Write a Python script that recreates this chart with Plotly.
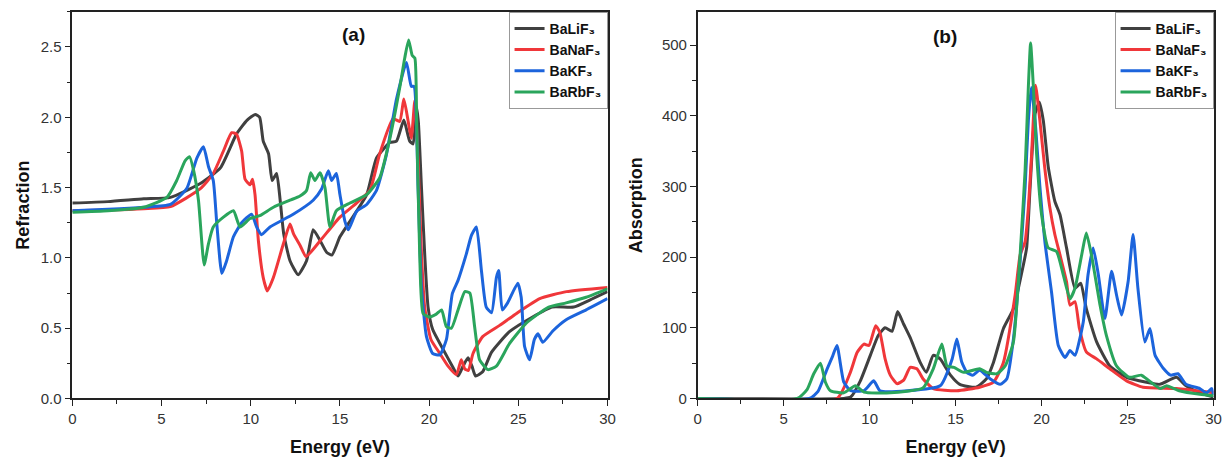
import plotly.graph_objects as go

# ---------------- Panel (a): Refraction ----------------
names = ["BaLiF₃", "BaNaF₃", "BaKF₃", "BaRbF₃"]
colors = ["#404040", "#f0373a", "#1c64dc", "#2aa55c"]

ref_li_e = [0, 2, 4, 5.5, 7.2, 8.3, 9.2, 9.8, 10.25, 10.5, 10.7, 11.0, 11.2, 11.45, 11.65, 11.85, 12.2,
            12.66, 13.13, 13.5, 13.9, 14.25, 14.55, 15.0, 15.56, 16.5, 17.05, 17.8, 18.17, 18.58, 18.91,
            19.1, 19.3, 19.4, 19.57, 19.75, 19.94, 20.2, 20.78, 21.3, 21.62, 21.9, 22.18, 22.4, 22.6,
            23.0, 23.5, 24.5, 25.8, 26.9, 28.1, 29.0, 30]
ref_li_n = [1.39, 1.40, 1.42, 1.43, 1.53, 1.64, 1.88, 1.98, 2.02, 2.0, 1.83, 1.74, 1.55, 1.60, 1.41, 1.17, 0.98,
            0.88, 0.98, 1.20, 1.12, 1.04, 1.02, 1.15, 1.26, 1.45, 1.71, 1.82, 1.83, 1.98, 1.83,
            1.81, 2.07, 1.96, 1.50, 1.03, 0.65, 0.49, 0.35, 0.23, 0.16, 0.23, 0.29, 0.23, 0.16,
            0.19, 0.33, 0.475, 0.58, 0.65, 0.65, 0.70, 0.76]

ref_na_e = [0, 2, 4, 5.5, 7.16, 7.9, 8.47, 8.93, 9.2, 9.49, 9.68, 9.96, 10.1, 10.24, 10.43, 10.7, 10.93,
            11.27, 11.83, 12.2, 12.4, 12.76, 13.1, 13.88, 15.0, 15.93, 16.68, 17.23, 17.98, 18.35, 18.58,
            18.8, 19.0, 19.2, 19.38, 19.57, 19.75, 20.1, 20.6, 21.06, 21.53, 21.8, 22.0, 22.2, 22.46,
            23.0, 23.95, 24.9, 26.2, 27.7, 30]
ref_na_n = [1.335, 1.34, 1.35, 1.365, 1.49, 1.60, 1.76, 1.89, 1.88, 1.76, 1.56, 1.52, 1.56, 1.45, 1.12, 0.86, 0.765,
            0.86, 1.10, 1.24, 1.17, 1.09, 1.01, 1.12, 1.29, 1.39, 1.48, 1.74, 1.99, 1.97, 2.13,
            1.99, 1.85, 2.12, 1.69, 1.03, 0.65, 0.42, 0.32, 0.23, 0.17, 0.275, 0.21, 0.20, 0.32,
            0.44, 0.52, 0.605, 0.71, 0.76, 0.79]

ref_k_e = [0, 2, 4, 5.5, 6.42, 6.98, 7.35, 7.63, 7.9, 8.1, 8.38, 8.65, 9.03, 9.49, 10.05, 10.33, 10.6,
           11.08, 12.38, 13.5, 13.97, 14.35, 14.53, 14.8, 15.0, 15.28, 15.47, 15.93, 16.5, 17.05, 17.6,
           18.17, 18.73, 19.0, 19.15, 19.38, 19.57, 19.85, 20.2, 20.6, 20.97, 21.3, 21.62, 22.09, 22.37,
           22.65, 22.93, 23.2, 23.5, 23.77, 23.9, 24.1, 24.4, 24.97, 25.16, 25.35, 25.63, 25.9, 26.1,
           26.37, 26.93, 27.68, 28.8, 30]
ref_k_n = [1.335, 1.345, 1.36, 1.38, 1.495, 1.71, 1.79, 1.65, 1.55, 1.24, 0.89, 0.98, 1.15, 1.25, 1.31, 1.22, 1.165,
           1.22, 1.31, 1.41, 1.49, 1.62, 1.55, 1.60, 1.45, 1.26, 1.20, 1.33, 1.38, 1.48, 1.73,
           2.13, 2.39, 2.22, 2.22, 1.50, 0.79, 0.44, 0.32, 0.31, 0.42, 0.746, 0.84, 1.03, 1.16,
           1.22, 0.91, 0.65, 0.61, 0.86, 0.91, 0.63, 0.68, 0.82, 0.72, 0.37, 0.275, 0.42, 0.46,
           0.40, 0.48, 0.56, 0.63, 0.71]

ref_rb_e = [0, 2, 4, 5.3, 5.85, 6.32, 6.57, 6.8, 7.07, 7.39, 7.63, 7.9, 8.47, 9.03, 9.4, 9.96, 10.5,
            11.27, 12.2, 12.76, 13.13, 13.36, 13.6, 13.88, 14.16, 14.44, 14.8, 15.56, 16.5, 17.23, 17.8,
            18.35, 18.63, 18.85, 19.05, 19.2, 19.3, 19.47, 19.66, 20.0, 20.4, 20.7, 20.97, 21.25, 21.62,
            22.0, 22.28, 22.55, 22.83, 23.3, 23.77, 24.5, 25.44, 26.7, 27.68, 28.8, 30]
ref_rb_n = [1.325, 1.335, 1.36, 1.43, 1.55, 1.69, 1.72, 1.62, 1.41, 0.95, 1.10, 1.22, 1.29, 1.335, 1.22, 1.28, 1.30,
            1.36, 1.41, 1.44, 1.48, 1.605, 1.55, 1.605, 1.50, 1.22, 1.335, 1.39, 1.45, 1.57, 1.85,
            2.21, 2.42, 2.55, 2.44, 2.42, 1.97, 1.03, 0.605, 0.58, 0.60, 0.63, 0.51, 0.50, 0.63,
            0.76, 0.75, 0.51, 0.275, 0.205, 0.23, 0.39, 0.535, 0.65, 0.68, 0.72, 0.78]

# ---------------- Panel (b): Absorption ----------------
abs_li_e = [0, 8.5, 8.9, 9.46, 10.04, 10.5, 10.9, 11.3, 11.63, 11.98, 12.36, 12.94, 13.3, 13.7, 14.1, 14.7,
            15.24, 16.2, 16.8, 17.2, 17.78, 18.36, 18.94, 19.13, 19.33, 19.62, 19.87, 20.1, 20.39, 20.77,
            21.07, 21.45, 21.94, 22.27, 22.6, 23.2, 23.97, 24.94, 26.1, 26.87, 27.84, 28.4, 29.2, 30]
abs_li_a = [0, 0, 2, 25, 61, 89, 100, 95, 123, 105, 86, 51, 37, 61, 56, 33,
            20, 16, 28, 51, 99, 127, 189, 213, 298, 403, 419, 393, 327, 279,
            260, 213, 156, 163, 127, 80, 46, 30, 23, 20, 30, 18, 8, 2]

abs_na_e = [0, 8.1, 8.88, 9.27, 9.67, 9.96, 10.35, 10.6, 10.9, 11.2, 11.59, 11.98, 12.36, 12.75, 13.1, 13.7,
            15.07, 16.4, 17.2, 17.78, 18.46, 18.75, 19.04, 19.23, 19.42, 19.65, 19.9, 20.18, 20.48, 20.77,
            21.07, 21.45, 21.65, 21.94, 22.2, 22.6, 23.2, 23.97, 24.94, 25.9, 27.84, 30]
abs_na_a = [0, 0, 37, 65, 77, 75, 103, 93, 56, 33, 21, 26, 44, 42, 28, 14,
            11, 16, 23, 51, 146, 203, 222, 270, 346, 443, 393, 327, 270, 232,
            203, 165, 132, 137, 99, 66, 56, 42, 25, 16, 14, 8]

abs_k_e = [0, 6.5, 7.0, 7.53, 7.85, 8.1, 8.5, 8.9, 9.67, 10.24, 10.6, 12.2, 14.1, 14.8, 15.07, 15.35,
           15.65, 16.0, 16.4, 17.0, 17.59, 17.98, 18.36, 18.75, 19.04, 19.23, 19.4, 19.6, 19.9, 20.2,
           20.58, 20.97, 21.36, 21.65, 21.94, 22.42, 22.7, 23.0, 23.3, 23.68, 24.07, 24.36, 24.65, 25.03,
           25.32, 25.6, 26.0, 26.3, 26.6, 27.1, 27.5, 27.93, 28.4, 29.2, 29.58, 29.9, 30]
abs_k_a = [0, 0, 10, 42, 60, 75, 23, 11, 11, 25, 11, 11, 18, 56, 84, 52,
           37, 33, 40, 28, 20, 28, 84, 194, 298, 393, 440, 400, 300, 220,
           150, 75, 58, 68, 61, 108, 175, 213, 175, 113, 180, 146, 118, 165,
           232, 156, 80, 99, 61, 42, 33, 35, 20, 14, 8, 14, 5]

abs_rb_e = [0, 5.8, 6.37, 6.75, 7.14, 7.43, 7.72, 8.5, 9.17, 9.67, 11.2, 13.1, 13.7, 14.2, 14.5, 14.9,
            15.47, 16.4, 16.8, 17.4, 17.88, 18.36, 18.75, 19.04, 19.23, 19.36, 19.52, 19.71, 20.0, 20.39,
            20.87, 21.26, 21.65, 21.94, 22.33, 22.6, 22.9, 23.4, 23.77, 24.36, 25.1, 25.8, 26.1, 26.9,
            27.27, 28.0, 29.2, 30]
abs_rb_a = [0, 0, 13, 35, 50, 23, 11, 8, 18, 9, 8, 15, 42, 77, 46, 44,
            37, 42, 37, 35, 46, 80, 203, 322, 441, 503, 441, 346, 260, 213,
            208, 175, 141, 156, 203, 234, 203, 132, 89, 46, 30, 33, 28, 14,
            18, 11, 6, 4]

ref_sets = [(ref_li_e, ref_li_n), (ref_na_e, ref_na_n), (ref_k_e, ref_k_n), (ref_rb_e, ref_rb_n)]
abs_sets = [(abs_li_e, abs_li_a), (abs_na_e, abs_na_a), (abs_k_e, abs_k_a), (abs_rb_e, abs_rb_a)]

FONT = "Liberation Sans, Arial, sans-serif"
W, H = 1229, 463
fig = go.Figure()

for (e, v), nm, c in zip(ref_sets, names, colors):
    fig.add_trace(go.Scatter(x=e, y=v, mode="lines", name=nm, legend="legend",
                             line=dict(color=c, width=3, shape="spline", smoothing=0.5),
                             xaxis="x", yaxis="y"))
for (e, v), nm, c in zip(abs_sets, names, colors):
    fig.add_trace(go.Scatter(x=e, y=v, mode="lines", name=nm, legend="legend2",
                             line=dict(color=c, width=3, shape="spline", smoothing=0.5),
                             xaxis="x2", yaxis="y2"))

ydom = [1 - 405.5 / H, 1 - 12 / H]
axis_common = dict(showgrid=False, zeroline=False, showline=True, linecolor="#222", linewidth=1.5,
                   mirror=True, ticks="outside", ticklen=6, tickwidth=1.3, tickcolor="#222",
                   tickfont=dict(family=FONT, size=15, color="#333"))

legend_common = dict(xanchor="right", yanchor="top", bordercolor="#999", borderwidth=1, bgcolor="white",
                     font=dict(family=FONT, size=14, color="#111", weight="bold"),
                     tracegroupgap=0, itemwidth=30)

fig.update_layout(
    width=W, height=H, paper_bgcolor="white", plot_bgcolor="white",
    margin=dict(l=0, r=0, t=0, b=0),
    xaxis=dict(domain=[69 / W, 609.5 / W], range=[0, 30], dtick=5, anchor="y",
               minor=dict(ticks="outside", dtick=2.5, ticklen=4, tickcolor="#222"),
               title=dict(text="<b>Energy (eV)</b>", font=dict(family=FONT, size=18, color="#111"), standoff=14),
               **axis_common),
    yaxis=dict(domain=ydom, range=[0, 2.75], dtick=0.5, tickformat=".1f", anchor="x",
               minor=dict(ticks="outside", dtick=0.25, ticklen=4, tickcolor="#222"),
               title=dict(text="<b>Refraction</b>", font=dict(family=FONT, size=18, color="#111"), standoff=6),
               **axis_common),
    xaxis2=dict(domain=[700.5 / W, 1221.5 / W], range=[0, 30], dtick=5, anchor="y2",
                minor=dict(ticks="outside", dtick=2.5, ticklen=4, tickcolor="#222"),
                title=dict(text="<b>Energy (eV)</b>", font=dict(family=FONT, size=18, color="#111"), standoff=14),
                **axis_common),
    yaxis2=dict(domain=ydom, range=[0, 547], dtick=100, anchor="x2",
                minor=dict(ticks="outside", dtick=50, ticklen=4, tickcolor="#222"),
                title=dict(text="<b>Absorption</b>", font=dict(family=FONT, size=18, color="#111"), standoff=15),
                **axis_common),
    legend=dict(x=609.5 / W, y=ydom[1], **legend_common),
    legend2=dict(x=1221.5 / W, y=ydom[1], **legend_common),
    annotations=[
        dict(text="<b>(a)</b>", x=353 / W, y=1 - 35.5 / H, xref="paper", yref="paper",
             xanchor="center", yanchor="middle",
             showarrow=False, font=dict(family=FONT, size=19, color="#111")),
        dict(text="<b>(b)</b>", x=950 / W, y=1 - 37 / H, xref="paper", yref="paper",
             xanchor="center", yanchor="middle",
             showarrow=False, font=dict(family=FONT, size=19, color="#111")),
    ],
    showlegend=True,
)

fig.write_html(
    "out.html",
    config={"displayModeBar": False},
    post_script=("document.documentElement.style.margin='0';document.documentElement.style.overflow='hidden';"
                 "document.body.style.margin='0';document.body.style.padding='0';document.body.style.overflow='hidden';"),
)
